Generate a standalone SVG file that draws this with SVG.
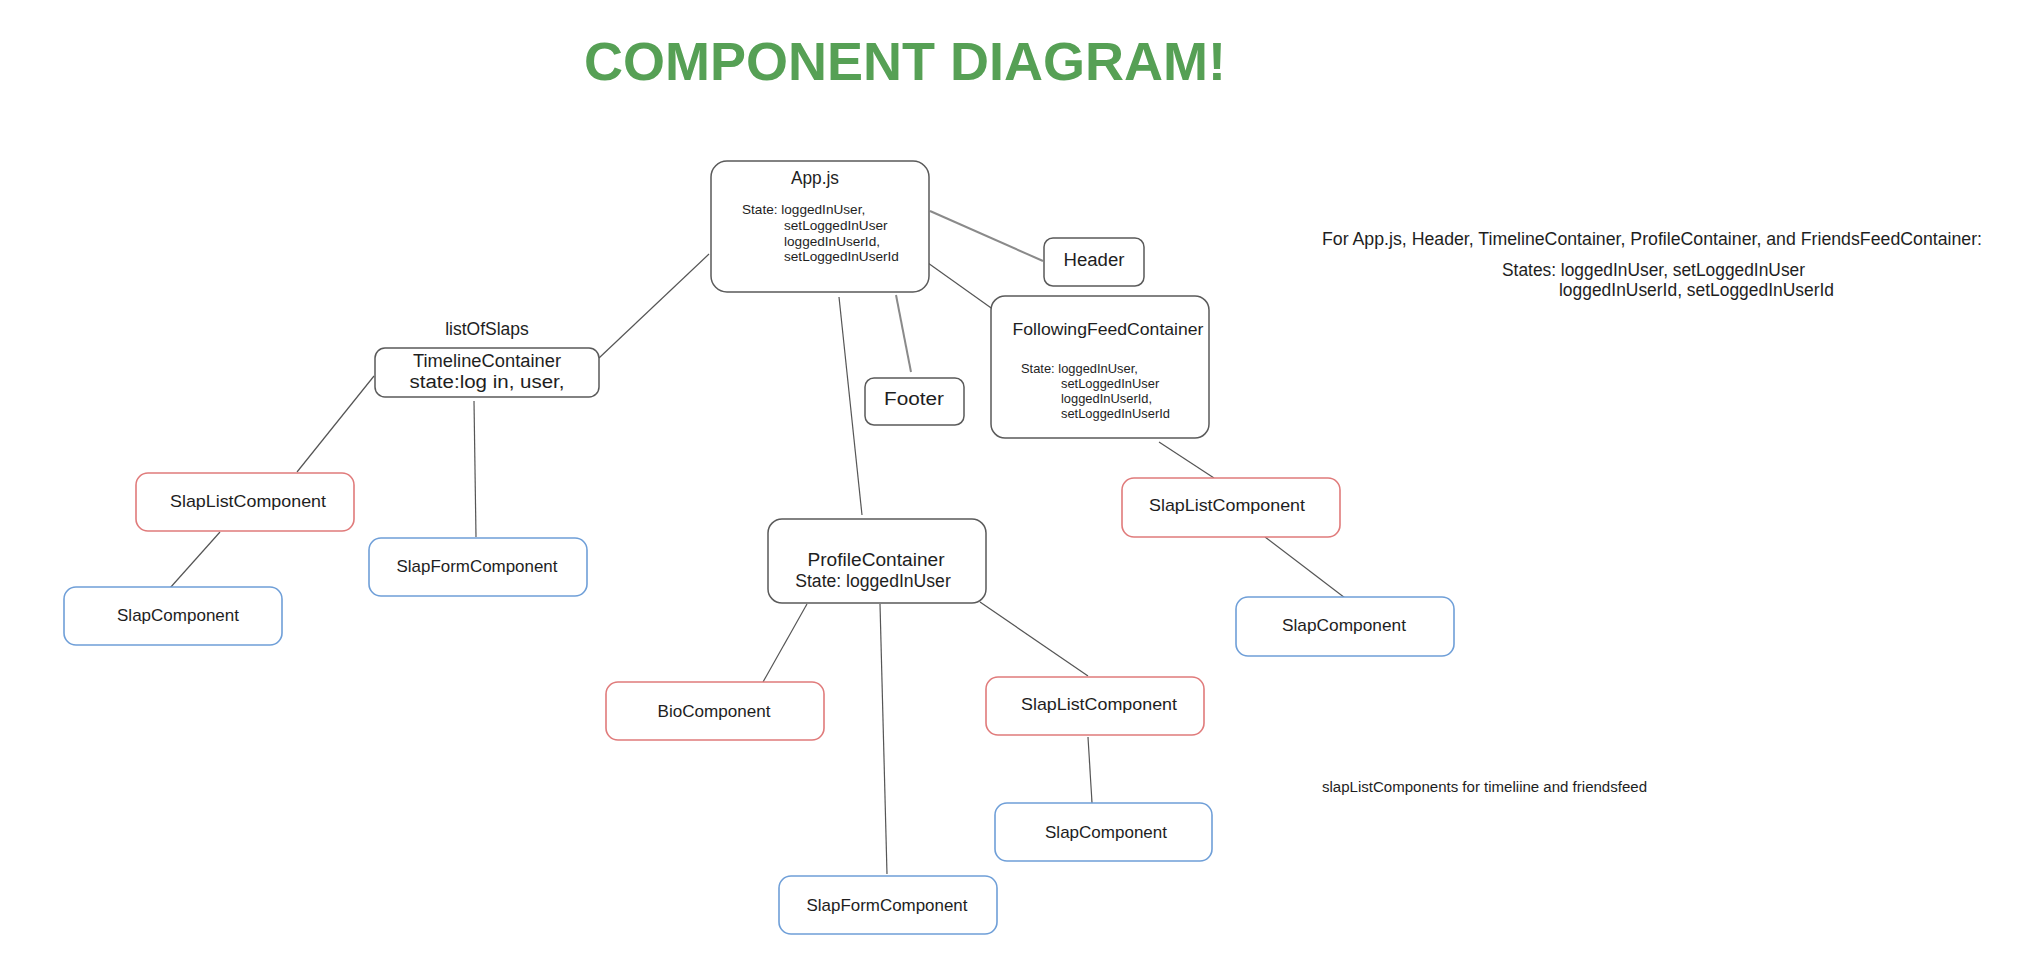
<svg xmlns="http://www.w3.org/2000/svg" width="2038" height="980" viewBox="0 0 2038 980">
<style>
  .box { fill: #ffffff; stroke: #5a5a5a; stroke-width: 1.5; }
  .red { fill: #ffffff; stroke: #e07b7b; stroke-width: 1.6; }
  .blue { fill: #ffffff; stroke: #6f9fd8; stroke-width: 1.6; }
  .hand { font-family: "Liberation Sans", Arial, sans-serif; fill: #1e1e1e; text-anchor: middle; }
  .sans { font-family: "Liberation Sans", Arial, sans-serif; fill: #1e1e1e; }
  .conn line { stroke: #555555; stroke-width: 1.2; }
  .conn line.soft { stroke: #8a8a8a; stroke-width: 2; }
</style>
<rect width="2038" height="980" fill="#ffffff"/>

<text x="584" y="80" font-family="Liberation Sans, Arial, sans-serif" font-weight="bold" font-size="54" fill="#56a055" textLength="642" lengthAdjust="spacingAndGlyphs">COMPONENT DIAGRAM!</text>

<g class="conn" id="connectors">
  <line x1="709" y1="254" x2="599" y2="358"/>
  <line class="soft" x1="930" y1="211" x2="1043" y2="261"/>
  <line x1="928" y1="263" x2="994" y2="310"/>
  <line class="soft" x1="896" y1="295" x2="911" y2="372"/>
  <line x1="839" y1="297" x2="862" y2="515"/>
  <line x1="374" y1="376" x2="297" y2="472"/>
  <line x1="474" y1="401" x2="476" y2="537"/>
  <line x1="220" y1="532" x2="170" y2="588"/>
  <line x1="807" y1="604" x2="763" y2="682"/>
  <line x1="880" y1="604" x2="887" y2="874"/>
  <line x1="980" y1="602" x2="1088" y2="676"/>
  <line x1="1088" y1="737" x2="1092" y2="803"/>
  <line x1="1159" y1="442" x2="1214" y2="478"/>
  <line x1="1265" y1="537" x2="1349" y2="601"/>
</g>

<g id="app">
  <rect class="box" x="711" y="161" width="218" height="131" rx="16"/>
  <text class="hand" x="815" y="184" font-size="19" textLength="48" lengthAdjust="spacingAndGlyphs">App.js</text>
  <text class="sans" x="742" y="214" font-size="13.6">State: loggedInUser,</text>
  <text class="sans" x="784" y="230" font-size="13.6">setLoggedInUser</text>
  <text class="sans" x="784" y="246" font-size="13.6">loggedInUserId,</text>
  <text class="sans" x="784" y="261" font-size="13.6">setLoggedInUserId</text>
</g>

<g id="header">
  <rect class="box" x="1044" y="238" width="100" height="48" rx="9"/>
  <text class="hand" x="1094" y="266" font-size="18" textLength="61" lengthAdjust="spacingAndGlyphs">Header</text>
</g>

<g id="footer">
  <rect class="box" x="865" y="378" width="99" height="47" rx="9"/>
  <text class="hand" x="914" y="405" font-size="18" textLength="60" lengthAdjust="spacingAndGlyphs">Footer</text>
</g>

<g id="followingFeedContainer">
  <rect class="box" x="991" y="296" width="218" height="142" rx="14"/>
  <text class="hand" x="1108" y="335" font-size="17" textLength="191" lengthAdjust="spacingAndGlyphs">FollowingFeedContainer</text>
  <text class="sans" x="1021" y="373" font-size="12.9">State: loggedInUser,</text>
  <text class="sans" x="1061" y="388" font-size="12.9">setLoggedInUser</text>
  <text class="sans" x="1061" y="403" font-size="12.9">loggedInUserId,</text>
  <text class="sans" x="1061" y="418" font-size="12.9">setLoggedInUserId</text>
</g>

<g id="timelineContainer">
  <text class="sans" x="487" y="335" font-size="17.5" text-anchor="middle">listOfSlaps</text>
  <rect class="box" x="375" y="348" width="224" height="49" rx="10"/>
  <text class="hand" x="487" y="367" font-size="18" textLength="148" lengthAdjust="spacingAndGlyphs">TimelineContainer</text>
  <text class="hand" x="487" y="388" font-size="18" textLength="155" lengthAdjust="spacingAndGlyphs">state:log in, user,</text>
</g>

<g id="slapListLeft">
  <rect class="red" x="136" y="473" width="218" height="58" rx="12"/>
  <text class="hand" x="248" y="507" font-size="17" textLength="156" lengthAdjust="spacingAndGlyphs">SlapListComponent</text>
</g>

<g id="slapComponentLeft">
  <rect class="blue" x="64" y="587" width="218" height="58" rx="12"/>
  <text class="hand" x="178" y="621" font-size="17" textLength="122" lengthAdjust="spacingAndGlyphs">SlapComponent</text>
</g>

<g id="slapFormLeft">
  <rect class="blue" x="369" y="538" width="218" height="58" rx="12"/>
  <text class="hand" x="477" y="572" font-size="17" textLength="161" lengthAdjust="spacingAndGlyphs">SlapFormComponent</text>
</g>

<g id="profileContainer">
  <rect class="box" x="768" y="519" width="218" height="84" rx="14"/>
  <text class="hand" x="876" y="566" font-size="18" textLength="137" lengthAdjust="spacingAndGlyphs">ProfileContainer</text>
  <text class="sans" x="873" y="587" font-size="17.6" text-anchor="middle">State: loggedInUser</text>
</g>

<g id="bioComponent">
  <rect class="red" x="606" y="682" width="218" height="58" rx="12"/>
  <text class="hand" x="714" y="717" font-size="17" textLength="113" lengthAdjust="spacingAndGlyphs">BioComponent</text>
</g>

<g id="slapListMid">
  <rect class="red" x="986" y="677" width="218" height="58" rx="12"/>
  <text class="hand" x="1099" y="710" font-size="17" textLength="156" lengthAdjust="spacingAndGlyphs">SlapListComponent</text>
</g>

<g id="slapComponentMid">
  <rect class="blue" x="995" y="803" width="217" height="58" rx="12"/>
  <text class="hand" x="1106" y="838" font-size="17" textLength="122" lengthAdjust="spacingAndGlyphs">SlapComponent</text>
</g>

<g id="slapFormBottom">
  <rect class="blue" x="779" y="876" width="218" height="58" rx="12"/>
  <text class="hand" x="887" y="911" font-size="17" textLength="161" lengthAdjust="spacingAndGlyphs">SlapFormComponent</text>
</g>

<g id="slapListRight">
  <rect class="red" x="1122" y="478" width="218" height="59" rx="12"/>
  <text class="hand" x="1227" y="511" font-size="17" textLength="156" lengthAdjust="spacingAndGlyphs">SlapListComponent</text>
</g>

<g id="slapComponentRight">
  <rect class="blue" x="1236" y="597" width="218" height="59" rx="12"/>
  <text class="hand" x="1344" y="631" font-size="17" textLength="124" lengthAdjust="spacingAndGlyphs">SlapComponent</text>
</g>

<g id="notes">
  <text class="sans" x="1322" y="245" font-size="17.5" textLength="660" lengthAdjust="spacingAndGlyphs">For App.js, Header, TimelineContainer, ProfileContainer, and FriendsFeedContainer:</text>
  <text class="sans" x="1502" y="276" font-size="17.5" textLength="303" lengthAdjust="spacingAndGlyphs">States: loggedInUser, setLoggedInUser</text>
  <text class="sans" x="1559" y="296" font-size="17.5" textLength="275" lengthAdjust="spacingAndGlyphs">loggedInUserId, setLoggedInUserId</text>
  <text class="sans" x="1322" y="792" font-size="14" textLength="325" lengthAdjust="spacingAndGlyphs">slapListComponents for timeliine and friendsfeed</text>
</g>
</svg>
